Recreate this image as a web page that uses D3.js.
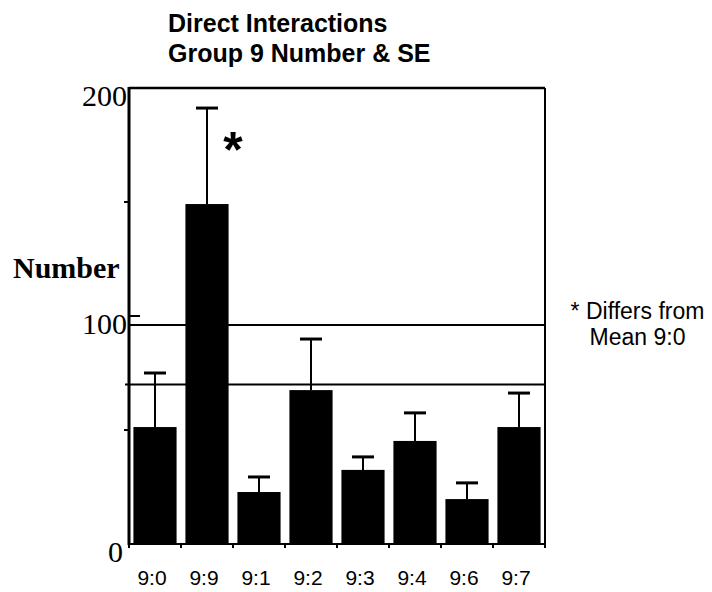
<!DOCTYPE html>
<html><head><meta charset="utf-8">
<script src="https://cdn.jsdelivr.net/npm/d3@7"></script>
<style>body{margin:0;background:#fff}svg{display:block}</style>
</head><body>
<svg id="c" width="712" height="592"></svg>
<script>
const categories = ["9:0","9:9","9:1","9:2","9:3","9:4","9:6","9:7"];
const means = [51.3, 149.1, 22.8, 67.5, 32.5, 45.2, 19.7, 51.3];
const seTop = [75.0, 191.2, 29.4, 89.9, 38.2, 57.5, 26.8, 66.2];
const refLines = [96.1, 70];
const majorTicks = [0, 100, 200];
const minorTicks = [50, 150];
const titleLines = ["Direct Interactions", "Group 9 Number & SE"];
const noteLines = ["* Differs from", "Mean 9:0"];
const starCategory = "9:9";

const svg = d3.select("#c");
const L = 129, R = 545, T = 88, B = 544;
const x = d3.scaleBand().domain(categories).range([L, R]).paddingInner(0.17).paddingOuter(0.085);
const y = d3.scaleLinear().domain([0, 200]).range([B, T]);

// title
svg.append("g").selectAll("text").data(titleLines).join("text")
  .attr("x", 168).attr("y", (d,i) => 32 + i*29.5)
  .attr("font-family", "Liberation Sans, Arial, sans-serif").attr("font-weight", "bold")
  .attr("font-size", 25).text(d => d);

// bars
svg.append("g").selectAll("rect").data(categories).join("rect")
  .attr("x", d => x(d)).attr("width", x.bandwidth())
  .attr("y", (d,i) => y(means[i])).attr("height", (d,i) => y(0) - y(means[i]))
  .attr("fill", "#000");

// error bars
const eg = svg.append("g").attr("stroke", "#000");
eg.selectAll("line.v").data(categories).join("line").attr("class","v")
  .attr("x1", d => x(d) + x.bandwidth()/2).attr("x2", d => x(d) + x.bandwidth()/2)
  .attr("y1", (d,i) => y(means[i])).attr("y2", (d,i) => y(seTop[i])).attr("stroke-width", 2);
eg.selectAll("line.c").data(categories).join("line").attr("class","c")
  .attr("x1", d => x(d) + x.bandwidth()/2 - 11).attr("x2", d => x(d) + x.bandwidth()/2 + 11)
  .attr("y1", (d,i) => y(seTop[i])).attr("y2", (d,i) => y(seTop[i])).attr("stroke-width", 3);

// reference lines
svg.append("g").selectAll("line").data(refLines).join("line")
  .attr("x1", (d,i) => i === 1 ? L - 4 : L).attr("x2", R)
  .attr("y1", d => y(d)).attr("y2", d => y(d))
  .attr("stroke", "#000").attr("stroke-width", 2);

// frame
svg.append("line").attr("x1", L).attr("x2", R).attr("y1", T).attr("y2", T).attr("stroke","#000").attr("stroke-width",2.5);
svg.append("line").attr("x1", R).attr("x2", R).attr("y1", T).attr("y2", B).attr("stroke","#000").attr("stroke-width",2);

// x axis
const xa = svg.append("g");
xa.append("line").attr("x1", L).attr("x2", R+1).attr("y1", B).attr("y2", B).attr("stroke","#000").attr("stroke-width",2);
const bounds = categories.map(d => x(d) - x.step()*x.paddingInner()/2).concat([R]);
xa.selectAll("line.t").data(bounds).join("line").attr("class","t")
  .attr("x1", d => d).attr("x2", d => d).attr("y1", B).attr("y2", B + 4)
  .attr("stroke","#000").attr("stroke-width",2);
xa.selectAll("text").data(categories).join("text")
  .attr("x", d => x(d) + x.bandwidth()/2 - 3).attr("y", 585)
  .attr("text-anchor","middle").attr("font-family","Liberation Sans, Arial, sans-serif")
  .attr("font-size", 21).text(d => d);

// y axis
const ya = svg.append("g");
ya.append("line").attr("x1", L).attr("x2", L).attr("y1", T - 1).attr("y2", B + 1).attr("stroke","#000").attr("stroke-width",3);
ya.selectAll("line.M").data(majorTicks).join("line").attr("class","M")
  .attr("x1", L).attr("x2", L + 11).attr("y1", d => y(d)).attr("y2", d => y(d))
  .attr("stroke","#000").attr("stroke-width",2);
ya.selectAll("line.m").data(minorTicks).join("line").attr("class","m")
  .attr("x1", L - 5).attr("x2", L).attr("y1", d => y(d)).attr("y2", d => y(d))
  .attr("stroke","#000").attr("stroke-width",2);
ya.selectAll("text").data(majorTicks).join("text")
  .attr("x", d => d === 0 ? 123 : 127).attr("y", d => y(d) + 18).attr("text-anchor","end")
  .attr("font-family","Liberation Serif, Times New Roman, serif").attr("font-size", 30)
  .text(d => d);
svg.append("text").attr("x", 13).attr("y", 278)
  .attr("font-family","Liberation Serif, Times New Roman, serif").attr("font-weight","bold")
  .attr("font-size", 30).text("Number");

// significance star
svg.append("text").attr("x", x(starCategory) + x.bandwidth() + 4.5).attr("y", 167)
  .attr("text-anchor","middle").attr("font-family","Liberation Sans, Arial, sans-serif")
  .attr("font-weight","bold").attr("font-size", 50).text("*");

// note
svg.append("g").selectAll("text").data(noteLines).join("text")
  .attr("x", 637.5).attr("y", (d,i) => 319 + i*26).attr("text-anchor","middle")
  .attr("font-family","Liberation Sans, Arial, sans-serif").attr("font-size", 23).text(d => d);
</script>
</body></html>
